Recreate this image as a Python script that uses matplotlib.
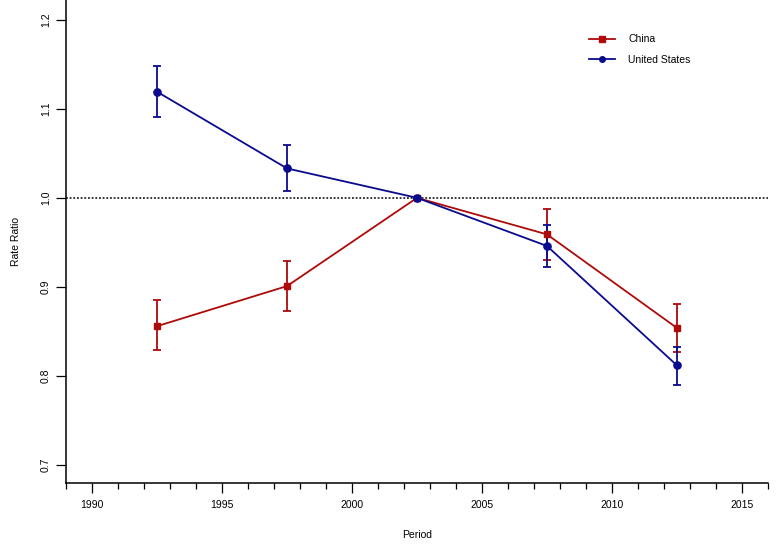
import matplotlib
matplotlib.use("Agg")
import matplotlib.pyplot as plt
from matplotlib.ticker import MultipleLocator
from matplotlib.lines import Line2D

plt.rcParams['font.family'] = ['Liberation Sans', 'DejaVu Sans']

periods = [1992.5, 1997.5, 2002.5, 2007.5, 2012.5]
china = [0.856, 0.901, 1.000, 0.959, 0.854]
china_lo = [0.829, 0.873, 1.000, 0.930, 0.827]
china_hi = [0.885, 0.929, 1.000, 0.988, 0.881]
us = [1.119, 1.033, 1.000, 0.946, 0.812]
us_lo = [1.091, 1.008, 1.000, 0.922, 0.790]
us_hi = [1.148, 1.059, 1.000, 0.970, 0.833]
x_ticks = [1990, 1995, 2000, 2005, 2010, 2015]
y_ticks = [0.7, 0.8, 0.9, 1.0, 1.1, 1.2]

red = '#AE0A0A'
blue = '#0A0A8E'

fig = plt.figure(figsize=(7.78, 5.47), dpi=100)
ax = fig.add_axes([0.085, 0.117, 0.902, 0.883])

ax.axhline(1.0, color='black', linestyle=(0, (1.2, 1.2)), linewidth=1.1, zorder=1)

def draw(vals, lo, hi, color, marker, ms):
    yerr = [[v - l for v, l in zip(vals, lo)], [h - v for v, h in zip(vals, hi)]]
    ax.errorbar(periods, vals, yerr=yerr, color=color, ecolor=color, elinewidth=1.3,
                capsize=3.0, capthick=1.3, linewidth=1.3, marker=marker,
                markersize=ms, zorder=3)

draw(china, china_lo, china_hi, red, 's', 5.0)
draw(us, us_lo, us_hi, blue, 'o', 5.2)

ax.set_xlim(1989, 2016)
ax.set_ylim(0.68, 1.222)
ax.set_xticks(x_ticks)
ax.set_xticklabels([str(t) for t in x_ticks])
ax.xaxis.set_minor_locator(MultipleLocator(1))
ax.set_yticks(y_ticks)
ax.set_yticklabels([f"{t:.1f}" for t in y_ticks], rotation=90, va='center')

for s in ['top', 'right']:
    ax.spines[s].set_visible(False)
for s in ['left', 'bottom']:
    ax.spines[s].set_linewidth(1.1)

ax.tick_params(axis='both', which='major', direction='out', length=7, width=0.9,
               labelsize=7.5)
ax.tick_params(axis='x', which='major', pad=5)
ax.tick_params(axis='x', which='minor', direction='out', length=4, width=0.9)
ax.tick_params(axis='y', which='major', pad=4)

ax.set_xlabel('Period', fontsize=7.5)
ax.set_ylabel('Rate Ratio', fontsize=7.5)
ax.xaxis.set_label_coords(0.5, -0.097)
ax.yaxis.set_label_coords(-0.064, 0.5)

handles = [Line2D([], [], color=red, marker='s', markersize=4, linewidth=1.3),
           Line2D([], [], color=blue, marker='o', markersize=4, linewidth=1.3)]
ax.legend(handles, ['China', 'United States'], loc='upper left',
          bbox_to_anchor=(0.732, 0.948), frameon=False, fontsize=7.5,
          handlelength=2.5, labelspacing=1.0, handletextpad=1.25)

fig.savefig('out.png', dpi=100)
